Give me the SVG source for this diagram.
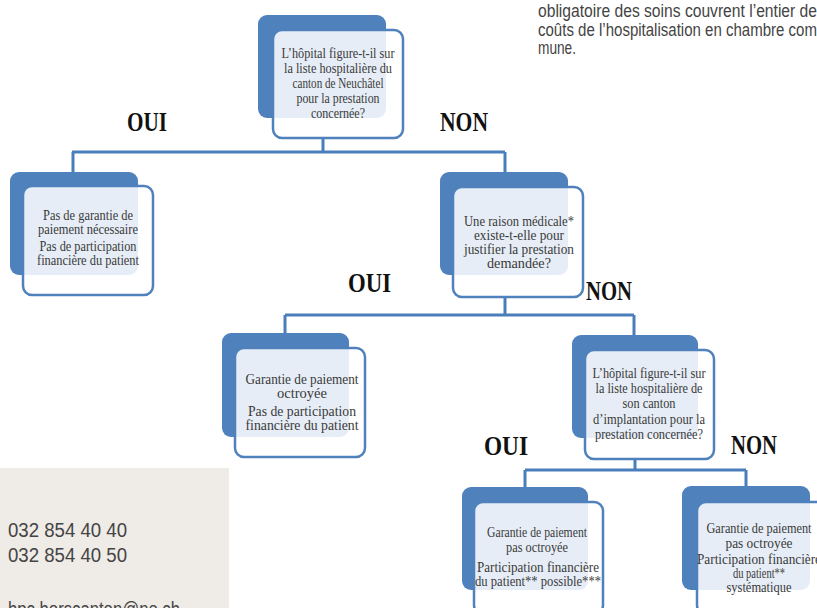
<svg xmlns="http://www.w3.org/2000/svg" width="817" height="608" viewBox="0 0 817 608">
<style>
.back{fill:#4f81bd;}
.front{fill:#ffffff;fill-opacity:0.86;stroke:#4f81bd;stroke-width:2.5;}
.nt{font-family:"Liberation Serif","DejaVu Serif",serif;font-size:14px;fill:#3a3a3a;text-anchor:middle;}
.yn{font-family:"Liberation Serif","DejaVu Serif",serif;font-weight:bold;font-size:28px;fill:#111;}
.conn{fill:none;stroke:#4a7ebb;stroke-width:3;}
.side{font-family:"Liberation Sans Narrow","Liberation Sans",sans-serif;fill:#444;}
</style>
<rect width="817" height="608" fill="#ffffff"/>

<g id="sidetext">
<text class="side" x="538" y="17" font-size="17.5" textLength="279" lengthAdjust="spacingAndGlyphs">obligatoire des soins couvrent l’entier de</text>
<text class="side" x="538" y="35.5" font-size="17.5" textLength="279" lengthAdjust="spacingAndGlyphs">coûts de l’hospitalisation en chambre com</text>
<text class="side" x="538" y="54" font-size="17.5" textLength="38" lengthAdjust="spacingAndGlyphs">mune.</text>
</g>

<g id="contact">
<rect x="0" y="468" width="229" height="140" fill="#efebe7"/>
<text class="side" x="8" y="537" font-size="20" fill="#333" textLength="119" lengthAdjust="spacingAndGlyphs">032 854 40 40</text>
<text class="side" x="8" y="562" font-size="20" fill="#333" textLength="119" lengthAdjust="spacingAndGlyphs">032 854 40 50</text>
<text class="side" x="8" y="616" font-size="20" fill="#333" textLength="172" lengthAdjust="spacingAndGlyphs">hpc.horscanton@ne.ch</text>
</g>

<g id="connectors">
<path class="conn" d="M323 138 V152 M72 152 H505 M73 152 V172 M505 152 V172"/>
<path class="conn" d="M505 297 V315 M285 315 H634 M285 315 V333 M634 315 V335"/>
<path class="conn" d="M635 459 V470 M525 470 H746 M525 470 V487 M746 470 V486"/>
</g>

<g id="labels">
<text class="yn" x="127" y="131" textLength="40" lengthAdjust="spacingAndGlyphs">OUI</text>
<text class="yn" x="440" y="131" textLength="48" lengthAdjust="spacingAndGlyphs">NON</text>
<text class="yn" x="348" y="292" textLength="43" lengthAdjust="spacingAndGlyphs">OUI</text>
<text class="yn" x="586" y="300" textLength="46" lengthAdjust="spacingAndGlyphs">NON</text>
<text class="yn" x="484" y="455" textLength="44" lengthAdjust="spacingAndGlyphs">OUI</text>
<text class="yn" x="731" y="454" textLength="46" lengthAdjust="spacingAndGlyphs">NON</text>
</g>

<g id="n1">
<rect class="back" x="258" y="15" width="128" height="103" rx="9"/>
<rect class="front" x="273" y="30" width="130" height="108" rx="9"/>
<text class="nt" x="338" y="58" textLength="113" lengthAdjust="spacingAndGlyphs">L’hôpital figure-t-il sur</text>
<text class="nt" x="338" y="73" textLength="108" lengthAdjust="spacingAndGlyphs">la liste hospitalière du</text>
<text class="nt" x="338" y="88" textLength="91" lengthAdjust="spacingAndGlyphs">canton de Neuchâtel</text>
<text class="nt" x="338" y="103" textLength="83" lengthAdjust="spacingAndGlyphs">pour la prestation</text>
<text class="nt" x="338" y="118" textLength="54" lengthAdjust="spacingAndGlyphs">concernée?</text>
</g>

<g id="n2">
<rect class="back" x="10" y="172" width="128" height="103" rx="9"/>
<rect class="front" x="23" y="186" width="130" height="109" rx="9"/>
<text class="nt" x="88" y="220" textLength="90" lengthAdjust="spacingAndGlyphs">Pas de garantie de</text>
<text class="nt" x="88" y="234" textLength="100" lengthAdjust="spacingAndGlyphs">paiement nécessaire</text>
<text class="nt" x="88" y="251" textLength="97" lengthAdjust="spacingAndGlyphs">Pas de participation</text>
<text class="nt" x="88" y="265" textLength="102" lengthAdjust="spacingAndGlyphs">financière du patient</text>
</g>

<g id="n3">
<rect class="back" x="440" y="172" width="128" height="103" rx="9"/>
<rect class="front" x="453" y="187" width="130" height="110" rx="9"/>
<text class="nt" x="519" y="226" textLength="110" lengthAdjust="spacingAndGlyphs">Une raison médicale*</text>
<text class="nt" x="519" y="240" textLength="90" lengthAdjust="spacingAndGlyphs">existe-t-elle pour</text>
<text class="nt" x="519" y="254" textLength="110" lengthAdjust="spacingAndGlyphs">justifier la prestation</text>
<text class="nt" x="519" y="268" textLength="64" lengthAdjust="spacingAndGlyphs">demandée?</text>
</g>

<g id="n4">
<rect class="back" x="222" y="333" width="127" height="104" rx="9"/>
<rect class="front" x="235" y="348" width="130" height="109" rx="9"/>
<text class="nt" x="302" y="384" textLength="113" lengthAdjust="spacingAndGlyphs">Garantie de paiement</text>
<text class="nt" x="302" y="398" textLength="50" lengthAdjust="spacingAndGlyphs">octroyée</text>
<text class="nt" x="302" y="416" textLength="108" lengthAdjust="spacingAndGlyphs">Pas de participation</text>
<text class="nt" x="302" y="430" textLength="113" lengthAdjust="spacingAndGlyphs">financière du patient</text>
</g>

<g id="n5">
<rect class="back" x="572" y="335" width="126" height="103" rx="9"/>
<rect class="front" x="585" y="350" width="129" height="109" rx="9"/>
<text class="nt" x="649" y="378" textLength="113" lengthAdjust="spacingAndGlyphs">L’hôpital figure-t-il sur</text>
<text class="nt" x="649" y="393" textLength="107" lengthAdjust="spacingAndGlyphs">la liste hospitalière de</text>
<text class="nt" x="649" y="408" textLength="53" lengthAdjust="spacingAndGlyphs">son canton</text>
<text class="nt" x="649" y="424" textLength="112" lengthAdjust="spacingAndGlyphs">d’implantation pour la</text>
<text class="nt" x="649" y="439" textLength="108" lengthAdjust="spacingAndGlyphs">prestation concernée?</text>
</g>

<g id="n6">
<rect class="back" x="462" y="487" width="126" height="103" rx="9"/>
<rect class="front" x="474" y="502" width="129" height="112" rx="9"/>
<text class="nt" x="537" y="537" textLength="100" lengthAdjust="spacingAndGlyphs">Garantie de paiement</text>
<text class="nt" x="537" y="552" textLength="62" lengthAdjust="spacingAndGlyphs">pas octroyée</text>
<text class="nt" x="538" y="572" textLength="122" lengthAdjust="spacingAndGlyphs">Participation financière</text>
<text class="nt" x="538" y="586" textLength="126" lengthAdjust="spacingAndGlyphs">du patient** possible***</text>
</g>

<g id="n7">
<rect class="back" x="682" y="486" width="128" height="104" rx="9"/>
<rect class="front" x="697" y="502" width="130" height="112" rx="9"/>
<text class="nt" x="759" y="533" textLength="105" lengthAdjust="spacingAndGlyphs">Garantie de paiement</text>
<text class="nt" x="759" y="548" textLength="67" lengthAdjust="spacingAndGlyphs">pas octroyée</text>
<text class="nt" x="759" y="564" textLength="124" lengthAdjust="spacingAndGlyphs">Participation financière</text>
<text class="nt" x="759" y="578" textLength="52" lengthAdjust="spacingAndGlyphs">du patient**</text>
<text class="nt" x="759" y="592" textLength="65" lengthAdjust="spacingAndGlyphs">systématique</text>
</g>
</svg>
